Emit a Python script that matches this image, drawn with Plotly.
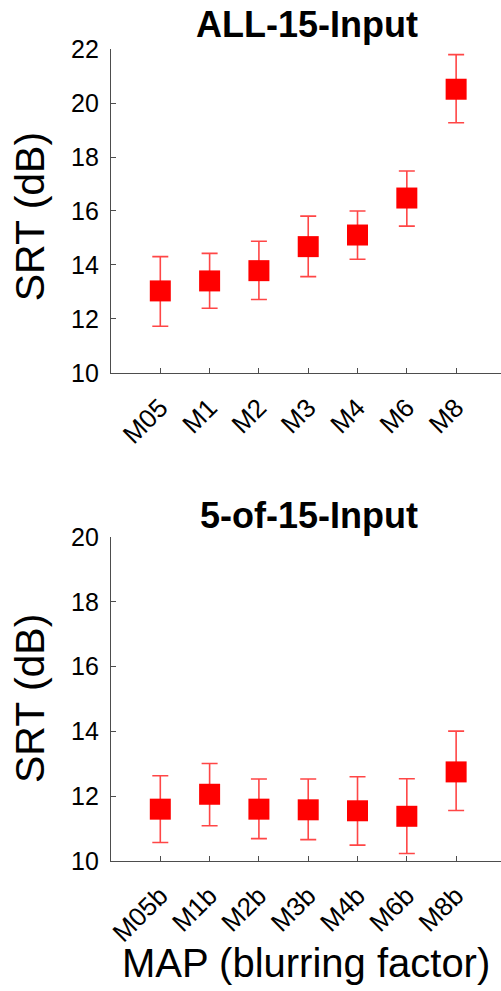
import plotly.graph_objects as go

# ---- data ----
top_labels = ["M05", "M1", "M2", "M3", "M4", "M6", "M8"]
top_mean = [13.04, 13.41, 13.79, 14.68, 15.11, 16.48, 20.51]
top_upper = [14.31, 14.43, 14.88, 15.81, 16.00, 17.48, 21.79]
top_lower = [11.73, 12.40, 12.72, 13.57, 14.21, 15.44, 19.27]

bot_labels = ["M05b", "M1b", "M2b", "M3b", "M4b", "M6b", "M8b"]
bot_mean = [11.60, 12.06, 11.60, 11.58, 11.55, 11.38, 12.75]
bot_upper = [12.63, 13.01, 12.53, 12.53, 12.60, 12.54, 14.01]
bot_lower = [10.57, 11.09, 10.69, 10.66, 10.49, 10.23, 11.56]

positions = [1, 2, 3, 4, 5, 6, 7]

FONT = "Liberation Sans, Arial, sans-serif"
RED = "#ff0000"
ERR = "rgb(255,70,70)"
AX = "#4d4d4d"

fig = go.Figure()

def add_series(x, mean, upper, lower, xa, ya):
    fig.add_trace(go.Scatter(
        x=x, y=mean, mode="markers", xaxis=xa, yaxis=ya,
        marker=dict(symbol="square", size=21, color=RED, line=dict(width=0)),
        error_y=dict(type="data", symmetric=False,
                     array=[u - m for u, m in zip(upper, mean)],
                     arrayminus=[m - l for m, l in zip(mean, lower)],
                     color=ERR, thickness=1.6, width=8),
        showlegend=False, hoverinfo="skip"))

add_series(positions, top_mean, top_upper, top_lower, "x", "y")
add_series(positions, bot_mean, bot_upper, bot_lower, "x2", "y2")

xcommon = dict(range=[0, 7.91], showline=True, linecolor=AX, linewidth=1.3,
               ticks="inside", ticklen=5, tickcolor=AX, tickwidth=1.3,
               showgrid=False, zeroline=False, tickangle=-45,
               tickfont=dict(family=FONT, size=26, color="black"),
               tickvals=positions, ticklabelstandoff=8, mirror=False)
ycommon = dict(showline=True, linecolor=AX, linewidth=1.3,
               ticks="inside", ticklen=5, tickcolor=AX, tickwidth=1.3,
               showgrid=False, zeroline=False,
               tickfont=dict(family=FONT, size=25, color="black"),
               ticklabelstandoff=6, dtick=2, mirror=False)

fig.update_layout(
    width=501, height=991,
    margin=dict(l=111, r=0, t=49, b=130),
    paper_bgcolor="white", plot_bgcolor="white",
    font=dict(family=FONT, color="black"),
    xaxis=dict(domain=[0, 1], anchor="y", ticktext=top_labels, **xcommon),
    yaxis=dict(domain=[0.601, 1.0], anchor="x", range=[10, 22], **ycommon),
    xaxis2=dict(domain=[0, 1], anchor="y2", ticktext=bot_labels, **xcommon),
    yaxis2=dict(domain=[0.0, 0.399], anchor="x2", range=[10, 20], **ycommon),
)

ann = [
    dict(text="<b>ALL-15-Input</b>", x=0.5026, y=1.0296, size=36),
    dict(text="<b>5-of-15-Input</b>", x=0.5077, y=0.4249, size=36),
    dict(text="MAP (blurring factor)", x=0.5, y=-0.1256, size=40),
]
for a in ann:
    fig.add_annotation(text=a["text"], xref="paper", yref="paper", x=a["x"], y=a["y"],
                       xanchor="center", yanchor="middle", showarrow=False,
                       font=dict(family=FONT, size=a["size"], color="black"))
for yy in [0.794, 0.2007]:
    fig.add_annotation(text="SRT (dB)", xref="paper", yref="paper", x=-0.2077, y=yy,
                       xanchor="center", yanchor="middle", textangle=-90, showarrow=False,
                       font=dict(family=FONT, size=41, color="black"))

fig.write_html("out.html", config={"displayModeBar": False},
               post_script="document.body.style.margin='0';document.body.style.overflow='hidden';")
